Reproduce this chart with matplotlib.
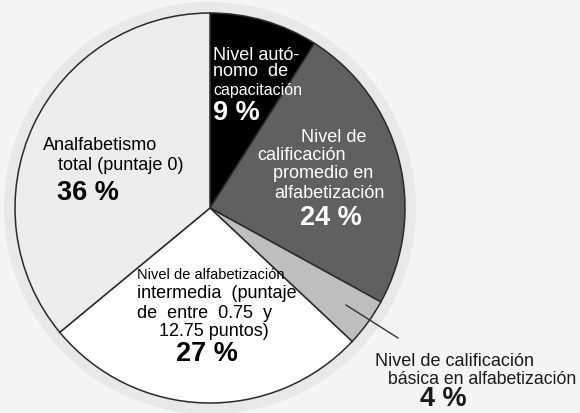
import matplotlib
matplotlib.use("Agg")
import matplotlib.pyplot as plt
from matplotlib.patches import Circle
from matplotlib import font_manager

# ---- data ----
categories = [
    "Nivel autónomo de capacitación",
    "Nivel de calificación promedio en alfabetización",
    "Nivel de calificación básica en alfabetización",
    "Nivel de alfabetización intermedia",
    "Analfabetismo total",
]
values = [9, 24, 4, 27, 36]
value_labels = ["9 %", "24 %", "4 %", "27 %", "36 %"]
label_lines = [
    ["Nivel autó-", "nomo  de", "capacitación"],
    ["Nivel de", "calificación", "promedio en", "alfabetización"],
    ["Nivel de calificación", "básica en alfabetización"],
    ["Nivel de alfabetización", "intermedia  (puntaje", "de  entre  0.75  y", "12.75 puntos)"],
    ["Analfabetismo", "total (puntaje 0)"],
]
colors = ["#000000", "#606060", "#bebebe", "#ffffff", "#ececec"]
text_colors = ["white", "white", "#1a1a1a", "black", "black"]

# ---- layout (pixel coordinates measured from top-left) ----
W, H = 580, 413
line_pos = [
    [(213, 55), (213, 72), (213, 90)],
    [(301, 137), (257, 155), (273, 174), (274, 193)],
    [(375, 362), (388, 379)],
    [(137, 275), (137, 294), (137, 313), (159, 332)],
    [(43, 146), (58, 166)],
]
value_pos = [(213, 113), (300, 218), (420, 406), (176, 354), (57, 193)]

names = {f.name for f in font_manager.fontManager.ttflist}
narrow = "Liberation Sans Narrow" if "Liberation Sans Narrow" in names else None

plt.rcParams["font.family"] = ["Liberation Sans", "DejaVu Sans"]

fig = plt.figure(figsize=(5.8, 4.13), dpi=100, facecolor="#f4f4f4")
ax = fig.add_axes([0, 0, 1, 1])
ax.set_facecolor("#f4f4f4")

cx, cy, r = 210, H - 208, 195
ax.add_patch(Circle((cx, cy), r + 11, color="#e8e8e8", zorder=0, lw=0))
ax.pie(values, colors=colors, startangle=90, counterclock=False,
       center=(cx, cy), radius=r, frame=True,
       wedgeprops=dict(edgecolor="#2a2a2a", linewidth=1.1))
ax.set_xlim(0, W)
ax.set_ylim(0, H)
ax.set_aspect("equal")
ax.axis("off")

for i, lines in enumerate(label_lines):
    for j, (txt, (x, y)) in enumerate(zip(lines, line_pos[i])):
        kw = dict(fontsize=13, color=text_colors[i], ha="left", va="center", zorder=5)
        if i == 3 and j == 0:
            if narrow:
                kw.update(family=narrow, fontsize=12.5)
            else:
                kw.update(fontsize=10.5)
        if i == 0 and j == 2:
            kw.update(fontsize=11.5)
        if i == 2 and j == 1:
            kw.update(fontsize=12.7)
        ax.text(x, H - y, txt, **kw)
    vx, vy = value_pos[i]
    va = "baseline" if i == 2 else "center"
    ax.text(vx, H - vy, value_labels[i], fontsize=19.5, fontweight="bold",
            color=text_colors[i], ha="left", va=va, zorder=5)

# leader line for the small slice
ax.plot([346, 398], [H - 305, H - 338], color="#333333", lw=1.0, zorder=6)

fig.savefig("out.png", dpi=100, facecolor=fig.get_facecolor())
